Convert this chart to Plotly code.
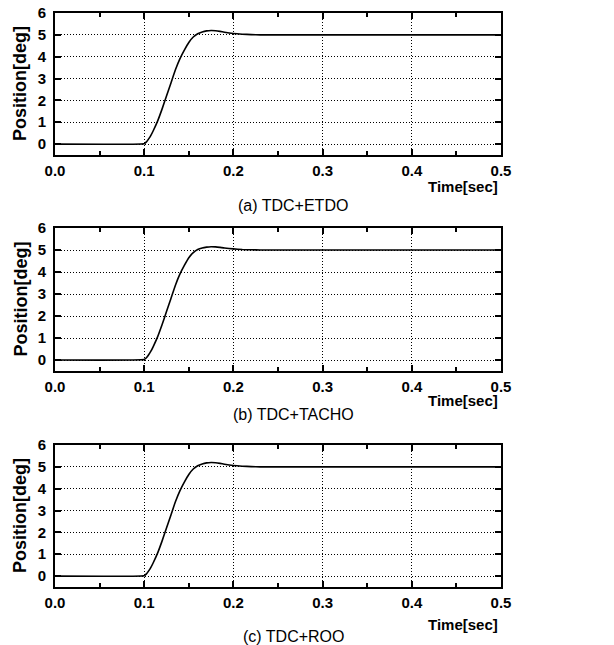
import plotly.graph_objects as go

# ---- data ----
time_s = [0.0, 0.1, 0.1025, 0.105, 0.1075, 0.11, 0.115, 0.12, 0.125, 0.13, 0.135, 0.14,
          0.145, 0.15, 0.155, 0.16, 0.165, 0.17, 0.175, 0.18, 0.185, 0.19,
          0.2, 0.21, 0.22, 0.23, 0.5]
pos_etdo = [0.0, 0.02, 0.1, 0.24, 0.4, 0.6, 1.05, 1.6, 2.2, 2.8, 3.4, 3.9,
            4.3, 4.65, 4.9, 5.05, 5.13, 5.18, 5.2, 5.19, 5.16, 5.12,
            5.06, 5.03, 5.01, 5.0, 5.0]
pos_tacho = [0.0, 0.02, 0.1, 0.24, 0.4, 0.6, 1.05, 1.6, 2.2, 2.8, 3.4, 3.9,
             4.3, 4.65, 4.88, 5.02, 5.09, 5.13, 5.15, 5.14, 5.12, 5.09,
             5.05, 5.02, 5.01, 5.0, 5.0]
pos_roo = [0.0, 0.02, 0.1, 0.24, 0.4, 0.6, 1.05, 1.6, 2.2, 2.8, 3.4, 3.9,
           4.3, 4.65, 4.9, 5.05, 5.13, 5.18, 5.2, 5.19, 5.16, 5.12,
           5.06, 5.03, 5.01, 5.0, 5.0]
series = [pos_etdo, pos_tacho, pos_roo]
subtitles = ["(a) TDC+ETDO", "(b) TDC+TACHO", "(c) TDC+ROO"]
x_ticks = [0.0, 0.1, 0.2, 0.3, 0.4, 0.5]
x_tick_text = ["0.0", "0.1", "0.2", "0.3", "0.4", "0.5"]
y_ticks = [0, 1, 2, 3, 4, 5, 6]
y_title = "Position[deg]"
x_title = "Time[sec]"

W, H = 614, 645
# panel pixel geometry (top, bottom) and text positions
panels = [
    dict(top=13, bottom=155, time_y=186, sub_y=205),
    dict(top=228, bottom=371, time_y=401, sub_y=414),
    dict(top=445, bottom=587, time_y=624, sub_y=636),
]
left_px, right_px = 55, 501

def py(p):
    return 1 - p / H

fig = go.Figure()
font_fam = "Liberation Sans, Arial, sans-serif"

for i, (ys, sub, pn) in enumerate(zip(series, subtitles, panels)):
    n = "" if i == 0 else str(i + 1)
    xa = "x" + n
    ya = "y" + n
    fig.add_trace(go.Scatter(x=time_s, y=ys, mode="lines",
                             line=dict(color="black", width=1.6, shape="spline", smoothing=0.3),
                             xaxis=xa, yaxis=ya, showlegend=False))
    axis_common = dict(showline=True, linecolor="black", linewidth=2, mirror="allticks",
                       ticks="inside", tickcolor="black", ticklen=6, tickwidth=1.5,
                       showgrid=True, gridcolor="black", griddash="1px,2px", gridwidth=1,
                       zeroline=False, automargin=False,
                       tickfont=dict(family=font_fam, size=15, color="black", weight="bold"))
    fig.layout["xaxis" + n] = dict(
        axis_common,
        domain=[left_px / W, right_px / W],
        range=[0, 0.5], tickvals=x_ticks, ticktext=x_tick_text,
        minor=dict(ticks="inside", dtick=0.05, tick0=0, ticklen=4, tickcolor="black",
                   tickwidth=1.5, showgrid=False),
        anchor=ya, ticklabelstandoff=1,
    )
    fig.layout["yaxis" + n] = dict(
        axis_common,
        domain=[py(pn["bottom"]), py(pn["top"])],
        range=[-0.5, 6], tickvals=y_ticks,
        anchor=xa, ticklabelstandoff=4,
    )
    # y title
    fig.add_annotation(x=20 / W, y=py((pn["top"] + pn["bottom"]) / 2), xref="paper", yref="paper",
                       text=y_title, textangle=-90, showarrow=False,
                       font=dict(family=font_fam, size=18, color="black", weight="bold"),
                       xanchor="center", yanchor="middle")
    # x title
    fig.add_annotation(x=(right_px - 1) / W, y=py(pn["time_y"]), xref="paper", yref="paper",
                       text=x_title, showarrow=False,
                       font=dict(family=font_fam, size=15, color="black", weight="bold"),
                       xanchor="right", yanchor="middle")
    # subtitle
    fig.add_annotation(x=293 / W, y=py(pn["sub_y"]), xref="paper", yref="paper",
                       text=sub, showarrow=False,
                       font=dict(family=font_fam, size=16, color="black"),
                       xanchor="center", yanchor="middle")

fig.update_layout(width=W, height=H, margin=dict(l=0, r=0, t=0, b=0),
                  paper_bgcolor="white", plot_bgcolor="white")
fig.write_html("out.html")
